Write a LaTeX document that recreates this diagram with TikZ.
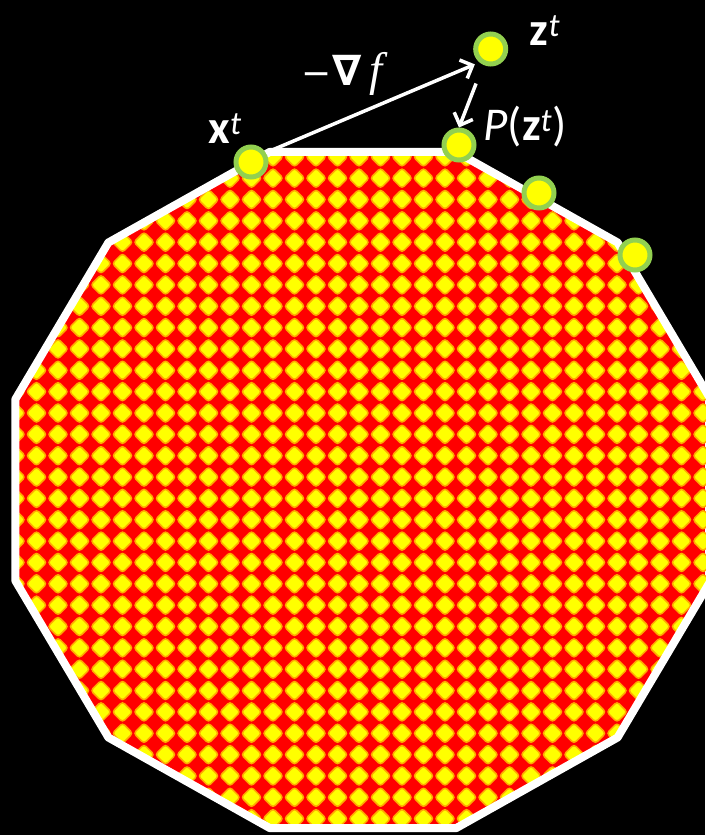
\documentclass[tikz,border=0pt]{standalone}
\usepackage{fontspec}
\setmainfont{Carlito}
\newfontfamily\nablafont{DejaVu Sans}
\newfontfamily\ffont{Liberation Serif}
\usetikzlibrary{arrows.meta}
\definecolor{dotgreen}{RGB}{146,208,80}
\definecolor{chkred}{RGB}{255,0,0}
\definecolor{chkyellow}{RGB}{255,255,0}
\definecolor{chkedge}{RGB}{255,170,0}

% the feasible set: a dodecagon with flat top and bottom
\def\hullpath{(710.7,399.4) -- (617.6,242.5) -- (456.2,151.9) -- (269.8,151.9)
  -- (108.4,242.5) -- (15.3,399.4) -- (15.3,580.6) -- (108.4,737.5)
  -- (269.8,828.1) -- (456.2,828.1) -- (617.6,737.5) -- (710.7,580.6) -- cycle}

\begin{document}
\begin{tikzpicture}[x=1pt, y=-1pt,
        dot/.style={circle, draw=dotgreen, line width=5pt, fill=chkyellow, minimum size=30pt, inner sep=0pt},
        lbl/.style={text=white, inner sep=0pt, font=\fontsize{47}{50}\selectfont},
        arr/.style={draw=white, line width=3.5pt, -{Straight Barb[length=10pt, width=20pt]}},
        hull/.style={draw=white, line width=8pt, line join=round},
        dia/.style={fill=chkyellow, draw=chkedge, line width=1.5pt, rounded corners=3pt}]

    \useasboundingbox (0,0) rectangle (705,835);
    \fill[black] (0,0) rectangle (705,835);

    % checkered interior
    \begin{scope}
        \clip \hullpath;
        \fill[chkred] (0,0) rectangle (705,835);
        \foreach \i in {-1,...,32}
            \foreach \j in {-13,...,20}
                \path[dia] ({36.5+21.5*\i-10.2},{413+21.35*\j}) -- ++(10.2,-10.2) -- ++(10.2,10.2) -- ++(-10.2,10.2) -- cycle;
    \end{scope}
    \draw[hull] \hullpath;

    % iterates
    \node [dot] (xt) at (251,162) {};
    \node [dot] (zt) at (490.7,49) {};
    \node [dot] (pz) at (459,145) {};
    \node [dot] (v1) at (539,193) {};
    \node [dot] (v2) at (635,255) {};

    \node [lbl] (xlab) at (225,129) {\textbf{x}\textsuperscript{\textit{t}}};
    \node [lbl] (zlab) at (545,31) {\textbf{z}\textsuperscript{\textit{t}}};
    \node [lbl] (plab) at (525,127) {\textit{P}(\textbf{z}\textsuperscript{\textit{t}})};
    \node [lbl] (glab) at (342,74) {{\nablafont\fontsize{36}{40}\selectfont −\bfseries\fontsize{42}{44}\selectfont ∇}\,{\ffont\itshape f}};

    \path [arr, shorten >=5pt] (xt.32) -- (zt.230);
    \path [arr, shorten <=20pt] (zt.245) -- (pz.north);
\end{tikzpicture}
\end{document}
